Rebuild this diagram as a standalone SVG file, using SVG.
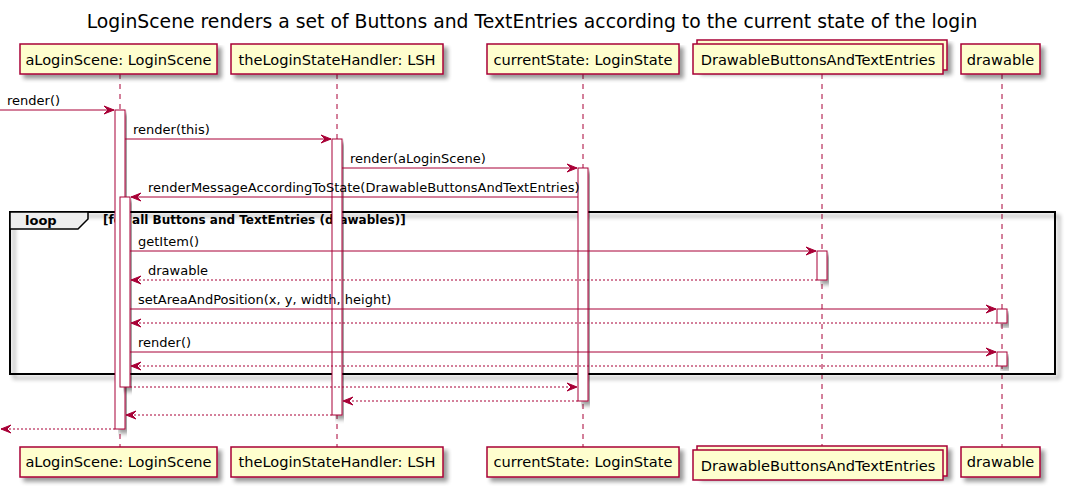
<svg xmlns="http://www.w3.org/2000/svg" width="1067" height="493" viewBox="0 0 1067 493">
<defs>
<filter id="sh" x="-10%" y="-10%" width="130%" height="140%">
<feGaussianBlur in="SourceAlpha" stdDeviation="2"/>
<feOffset dx="4" dy="4" result="b"/>
<feComponentTransfer><feFuncA type="linear" slope="0.4"/></feComponentTransfer>
<feMerge><feMergeNode/><feMergeNode in="SourceGraphic"/></feMerge>
</filter>
<marker id="ah" markerUnits="userSpaceOnUse" markerWidth="12" markerHeight="10" refX="10" refY="4" orient="auto" overflow="visible">
<path d="M0,0 L10,4 L0,8 L4,4 Z" fill="#A80036" stroke="#A80036" stroke-width="1"/>
</marker>
</defs>
<style>
text{font-family:"DejaVu Sans","Liberation Sans",sans-serif;fill:#000}
.t{font-size:18.8px}
.p{font-size:14.6px}
.m{font-size:13px}
.lb{font-size:13px;font-weight:bold}
.cd{font-size:12px;font-weight:bold}
.box{fill:#FEFECE;stroke:#A80036;stroke-width:1.5}
.life{stroke:#A80036;stroke-width:1;stroke-dasharray:5,5;fill:none}
.act{fill:#FFFFFF;stroke:#A80036;stroke-width:1}
.msg{stroke:#A80036;stroke-width:1;fill:none;marker-end:url(#ah)}
.ret{stroke:#A80036;stroke-width:1;fill:none;stroke-dasharray:2,2;marker-end:url(#ah)}
</style>
<rect width="1067" height="493" fill="#FFFFFF"/>
<text class="t" x="532" y="28" text-anchor="middle">LoginScene renders a set of Buttons and TextEntries according to the current state of the login</text>

<g id="lifelines">
<line class="life" x1="120" y1="74" x2="120" y2="447"/>
<line class="life" x1="337" y1="74" x2="337" y2="447"/>
<line class="life" x1="583" y1="74" x2="583" y2="447"/>
<line class="life" x1="822" y1="74" x2="822" y2="446"/>
<line class="life" x1="1002" y1="74" x2="1002" y2="447"/>
</g>

<g id="p_aLoginScene">
<rect class="box" x="20" y="44" width="197" height="30" filter="url(#sh)"/>
<text class="p" x="118.5" y="64.5" text-anchor="middle">aLoginScene: LoginScene</text>
<rect class="box" x="20" y="447" width="197" height="30" filter="url(#sh)"/>
<text class="p" x="118.5" y="467" text-anchor="middle">aLoginScene: LoginScene</text>
</g>
<g id="p_theLoginStateHandler">
<rect class="box" x="231" y="44" width="212" height="30" filter="url(#sh)"/>
<text class="p" x="337" y="64.5" text-anchor="middle">theLoginStateHandler: LSH</text>
<rect class="box" x="231" y="447" width="212" height="30" filter="url(#sh)"/>
<text class="p" x="337" y="467" text-anchor="middle">theLoginStateHandler: LSH</text>
</g>
<g id="p_currentState">
<rect class="box" x="487" y="44" width="192" height="30" filter="url(#sh)"/>
<text class="p" x="583" y="64.5" text-anchor="middle">currentState: LoginState</text>
<rect class="box" x="487" y="447" width="192" height="30" filter="url(#sh)"/>
<text class="p" x="583" y="467" text-anchor="middle">currentState: LoginState</text>
</g>
<g id="p_DrawableButtonsAndTextEntries">
<rect class="box" x="697" y="40" width="250" height="30" filter="url(#sh)"/>
<rect class="box" x="693" y="44" width="250" height="30"/>
<text class="p" x="818" y="64.5" text-anchor="middle">DrawableButtonsAndTextEntries</text>
<rect class="box" x="697" y="446" width="250" height="30" filter="url(#sh)"/>
<rect class="box" x="693" y="450" width="250" height="30"/>
<text class="p" x="818" y="470.5" text-anchor="middle">DrawableButtonsAndTextEntries</text>
</g>
<g id="p_drawable">
<rect class="box" x="961" y="44" width="79" height="30" filter="url(#sh)"/>
<text class="p" x="1000.5" y="64.5" text-anchor="middle">drawable</text>
<rect class="box" x="961" y="447" width="79" height="30" filter="url(#sh)"/>
<text class="p" x="1000.5" y="467" text-anchor="middle">drawable</text>
</g>

<g id="loop">
<rect x="10" y="212" width="1045" height="162" fill="none" stroke="#000" stroke-width="2" filter="url(#sh)"/>
<path d="M10,212 L88,212 L88,219 L78,229 L10,229 Z" fill="#EEEEEE" stroke="#000" stroke-width="1.5"/>
<text class="lb" x="25" y="225">loop</text>
<text class="cd" x="103" y="224">[for all Buttons and TextEntries (drawables)]</text>
</g>

<g id="activations">
<rect class="act" x="115" y="110" width="10" height="319" filter="url(#sh)"/>
<rect class="act" x="332" y="139" width="10" height="276" filter="url(#sh)"/>
<rect class="act" x="578" y="168" width="10" height="233" filter="url(#sh)"/>
<rect class="act" x="120" y="197" width="10" height="190" filter="url(#sh)"/>
<rect class="act" x="817" y="251" width="10" height="29" filter="url(#sh)"/>
<rect class="act" x="997" y="309" width="10" height="14" filter="url(#sh)"/>
<rect class="act" x="997" y="352" width="10" height="14" filter="url(#sh)"/>
</g>

<g id="connectors">
<line class="msg" x1="0" y1="110" x2="114" y2="110"/>
<text class="m" x="7" y="105">render()</text>
<line class="msg" x1="125" y1="139" x2="331" y2="139"/>
<text class="m" x="133" y="134">render(this)</text>
<line class="msg" x1="342" y1="168" x2="577" y2="168"/>
<text class="m" x="350" y="163">render(aLoginScene)</text>
<line class="msg" x1="578" y1="197" x2="131" y2="197"/>
<text class="m" x="148" y="192">renderMessageAccordingToState(DrawableButtonsAndTextEntries)</text>
<line class="msg" x1="130" y1="251" x2="816" y2="251"/>
<text class="m" x="138" y="246">getItem()</text>
<line class="ret" x1="817" y1="280" x2="131" y2="280"/>
<text class="m" x="148" y="275">drawable</text>
<line class="msg" x1="130" y1="309" x2="996" y2="309"/>
<text class="m" x="138" y="304">setAreaAndPosition(x, y, width, height)</text>
<line class="ret" x1="997" y1="323" x2="131" y2="323"/>
<line class="msg" x1="130" y1="352" x2="996" y2="352"/>
<text class="m" x="138" y="347">render()</text>
<line class="ret" x1="997" y1="366" x2="131" y2="366"/>
<line class="ret" x1="130" y1="387" x2="577" y2="387"/>
<line class="ret" x1="578" y1="401" x2="343" y2="401"/>
<line class="ret" x1="332" y1="415" x2="126" y2="415"/>
<line class="ret" x1="115" y1="429" x2="1" y2="429"/>
</g>
</svg>
